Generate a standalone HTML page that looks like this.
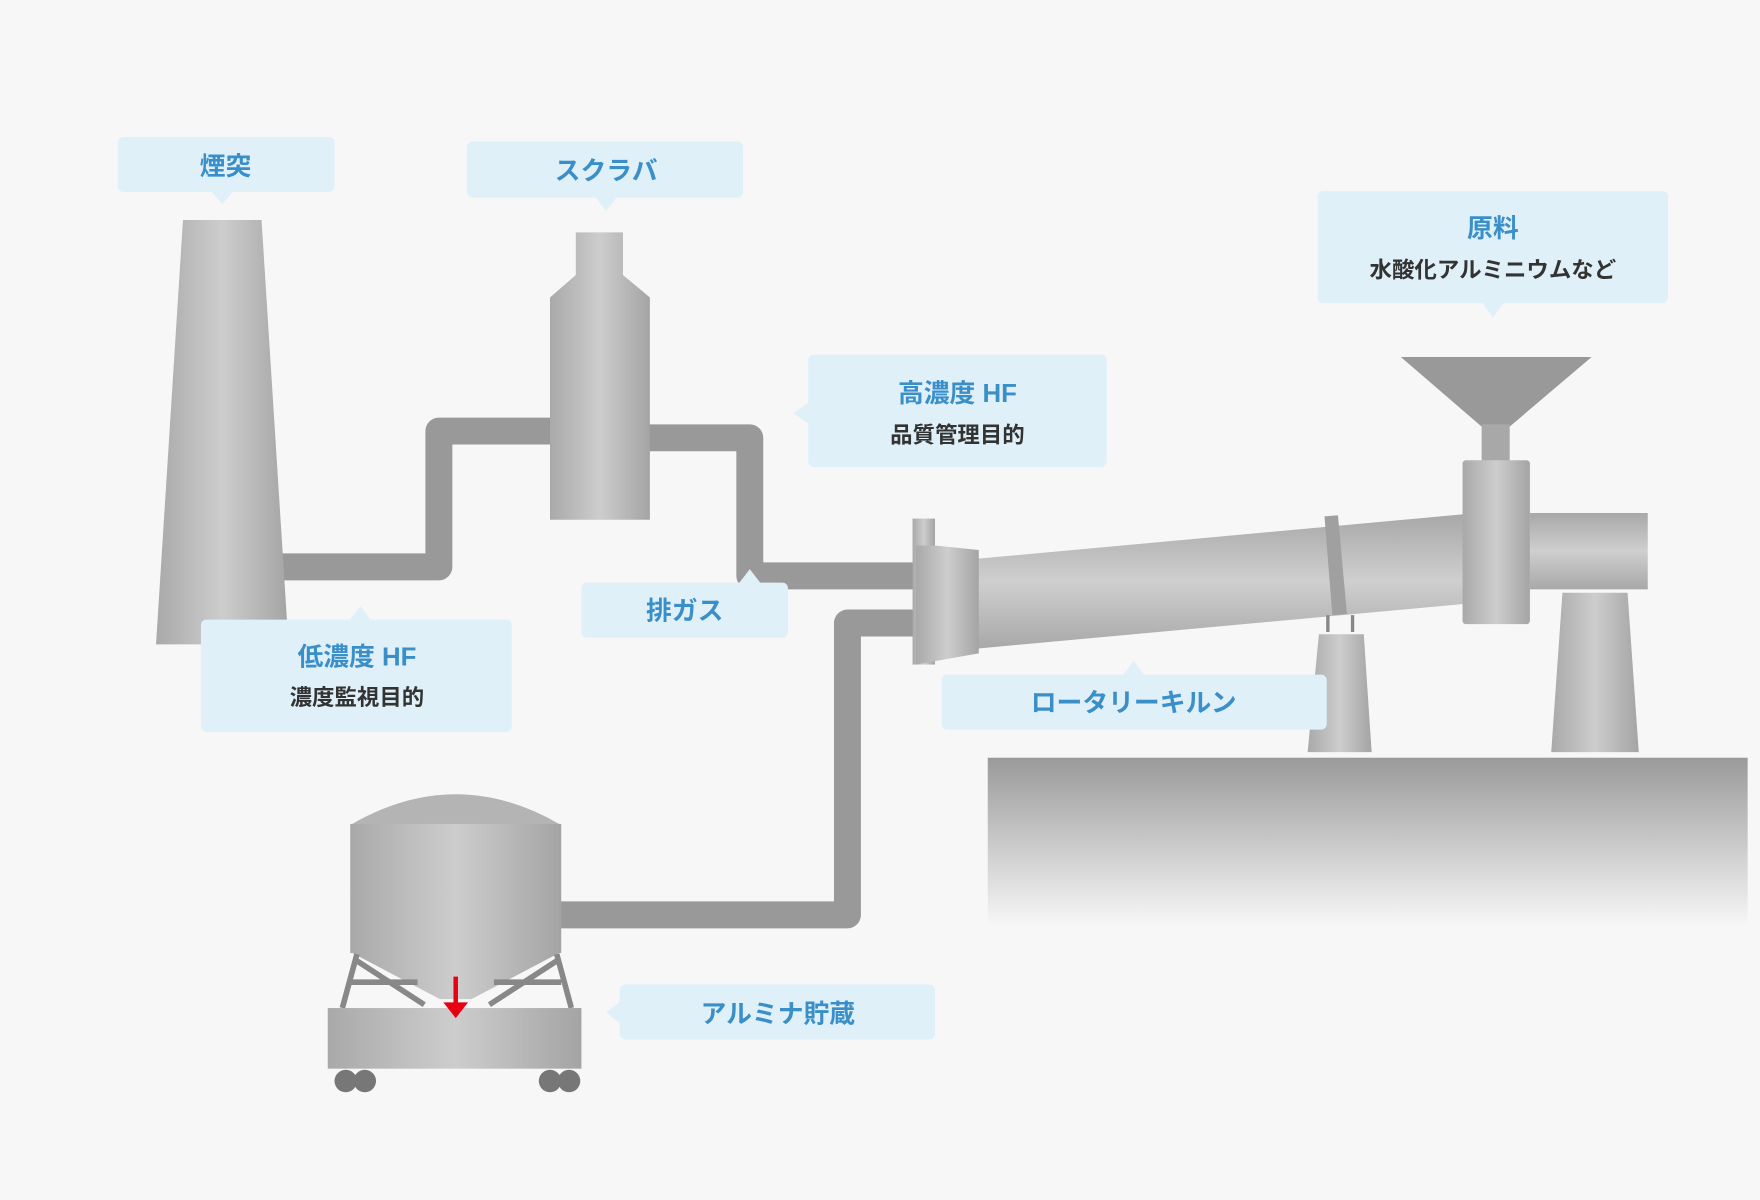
<!DOCTYPE html>
<html><head><meta charset="utf-8"><style>
html,body{margin:0;padding:0;background:#f7f7f7;}
svg{display:block}
text{font-family:"Liberation Sans","Noto Sans CJK JP",sans-serif;font-weight:bold;text-anchor:middle}
.t{fill:#3b8fc9;font-size:23px}
.s{fill:#333;font-size:20px}
.b{fill:#dff0f9}
</style></head><body>
<svg width="1760" height="1200" viewBox="0 0 1568 1069" preserveAspectRatio="none" xmlns="http://www.w3.org/2000/svg">
<defs>
<linearGradient id="g" x1="0" x2="1" y1="0" y2="0">
<stop offset="0" stop-color="#a9a9a9"/><stop offset="0.5" stop-color="#cdcdcd"/><stop offset="1" stop-color="#a4a4a4"/></linearGradient>
<linearGradient id="gv" x1="0" x2="0" y1="0" y2="1">
<stop offset="0" stop-color="#a8a8a8"/><stop offset="0.5" stop-color="#cfcfcf"/><stop offset="1" stop-color="#a8a8a8"/></linearGradient>
<linearGradient id="gr" x1="0" x2="0" y1="0" y2="1">
<stop offset="0" stop-color="#9a9a9a"/><stop offset="1" stop-color="#f7f7f7"/></linearGradient>
</defs>
<rect width="1568" height="1069" fill="#f7f7f7"/>
<rect x="880" y="675" width="677" height="150" fill="url(#gr)"/>
<g fill="none" stroke="#999" stroke-width="24" stroke-linejoin="round">
<path d="M250 505 H391 V384 H495"/>
<path d="M575 390 H668 V513 H818"/>
<path d="M495 815 H755 V555 H818"/>
</g>
<polygon points="163,196 233,196 257,574 139,574" fill="url(#g)"/>
<path d="M513 207 H555 V245 L579 265 V463 H490 V265 L513 245 Z" fill="url(#g)"/>
<polygon points="868,498 1305,458 1305,538 868,578" fill="url(#gv)"/>
<polygon points="1180,460 1192,459 1200,547 1187,548" fill="#a0a0a0"/>
<rect x="813" y="462" width="20" height="130" fill="url(#g)"/>
<polygon points="833,486 872,490 872,582 816,592 816,486" fill="url(#g)"/>
<rect x="1363" y="457" width="105" height="68" fill="url(#gv)"/>
<polygon points="1248,318 1418,318 1345,380 1320,380" fill="#999"/>
<rect x="1320" y="378" width="25" height="34" fill="#a8a8a8"/>
<rect x="1303" y="410" width="60" height="146" rx="3" fill="url(#g)"/>
<path d="M1183 563 V548 M1205 563 V548" stroke="#888" stroke-width="3"/>
<polygon points="1175,565 1215,565 1222,670 1165,670" fill="url(#g)"/>
<polygon points="1392,528 1450,528 1460,670 1382,670" fill="url(#g)"/>
<path d="M312 735 Q406 680 500 735 Z" fill="#b4b4b4"/>
<rect x="312" y="734" width="188" height="115" fill="url(#g)"/>
<path d="M312 848 H500 L420 890 H392 Z" fill="url(#g)"/>
<g stroke="#888" stroke-width="5" fill="none">
<path d="M318 850 L305 898 M496 850 L509 898 M318 856 L378 895 M496 856 L436 895 M312 875 L372 875 M500 875 L440 875"/>
</g>
<rect x="292" y="898" width="226" height="54" fill="url(#g)"/>
<g fill="#777"><circle cx="308" cy="963" r="10"/><circle cx="325" cy="963" r="10"/><circle cx="490" cy="963" r="10"/><circle cx="507" cy="963" r="10"/></g>
<path d="M406 870 V895" stroke="#e60012" stroke-width="4"/>
<polygon points="395,893 417,893 406,907" fill="#e60012"/>
<rect class="b" x="105" y="122" width="193" height="49" rx="5"/><polygon class="b" points="188,170 208,170 198,182"/>
<text class="t" x="201" y="156">煙突</text>
<rect class="b" x="416" y="126" width="246" height="50" rx="5"/><polygon class="b" points="530,175 550,175 540,188"/>
<text class="t" x="540" y="160">スクラバ</text>
<rect class="b" x="1174" y="170" width="312" height="100" rx="5"/><polygon class="b" points="1320,269 1340,269 1330,283"/>
<text class="t" x="1330" y="211">原料</text><text class="s" x="1330" y="247">水酸化アルミニウムなど</text>
<rect class="b" x="720" y="316" width="266" height="100" rx="5"/><polygon class="b" points="721,358 721,378 707,368"/>
<text class="t" x="853" y="358">高濃度 HF</text><text class="s" x="853" y="394">品質管理目的</text>
<rect class="b" x="518" y="519" width="184" height="49" rx="5"/><polygon class="b" points="658,520 678,520 668,507"/>
<text class="t" x="610" y="552">排ガス</text>
<rect class="b" x="179" y="552" width="277" height="100" rx="5"/><polygon class="b" points="311,553 331,553 321,540"/>
<text class="t" x="318" y="593">低濃度 HF</text><text class="s" x="318" y="628">濃度監視目的</text>
<rect class="b" x="839" y="601" width="343" height="49" rx="5"/><polygon class="b" points="1000,602 1020,602 1010,589"/>
<text class="t" x="1010" y="634">ロータリーキルン</text>
<rect class="b" x="552" y="877" width="281" height="49" rx="5"/><polygon class="b" points="553,892 553,912 540,902"/>
<text class="t" x="693" y="911">アルミナ貯蔵</text>
</svg>
</body></html>
